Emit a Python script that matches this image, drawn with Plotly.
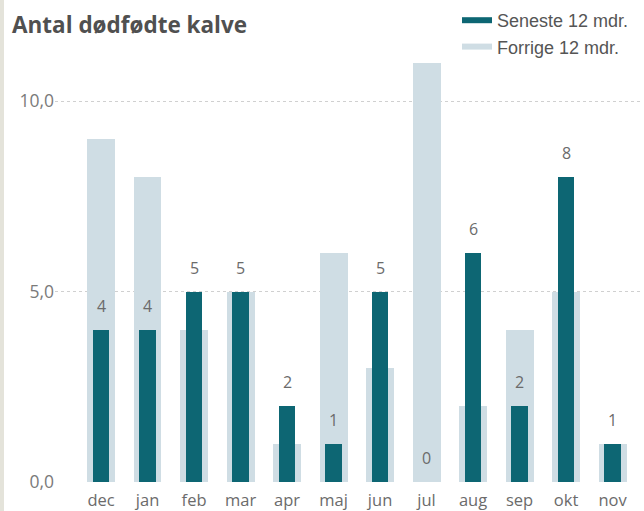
import plotly.graph_objects as go

months = ["dec", "jan", "feb", "mar", "apr", "maj", "jun", "jul", "aug", "sep", "okt", "nov"]
seneste = [4, 4, 5, 5, 2, 1, 5, 0, 6, 2, 8, 1]
forrige = [9, 8, 4, 5, 1, 6, 3, 11, 2, 4, 5, 1]
y_ticks = [0, 5, 10]
y_tick_labels = ["0,0", "5,0", "10,0"]

DARK = "#0d6673"
LIGHT = "#cfdde4"
TEXT = "#6b6b6b"
FONT = "Open Sans, Arial, sans-serif"

fig = go.Figure()
fig.add_trace(go.Bar(x=months, y=forrige, width=0.6, marker=dict(color=LIGHT, line=dict(width=0)),
                     name="Forrige 12 mdr.", showlegend=False, hoverinfo="skip"))
fig.add_trace(go.Bar(x=months, y=seneste, width=0.36, marker=dict(color=DARK, line=dict(width=0)),
                     name="Seneste 12 mdr.", showlegend=False, hoverinfo="skip"))

# legend entries
fig.add_trace(go.Scatter(x=[None], y=[None], mode="lines", line=dict(color=DARK, width=6),
                         name="Seneste 12 mdr.", hoverinfo="skip"))
fig.add_trace(go.Scatter(x=[None], y=[None], mode="lines", line=dict(color=LIGHT, width=6),
                         name="Forrige 12 mdr.", hoverinfo="skip"))

for m, v in zip(months, seneste):
    fig.add_annotation(x=m, y=v, text=str(v), showarrow=False, yanchor="middle", yshift=24,
                       font=dict(size=16, color=TEXT, family=FONT))

fig.update_layout(
    width=644, height=511,
    margin=dict(l=55, r=4, t=63, b=29, autoexpand=False),
    paper_bgcolor="white", plot_bgcolor="white",
    barmode="overlay", bargap=0,
    font=dict(family=FONT, color=TEXT, size=12),
    title=dict(text="<b>Antal dødfødte kalve</b>", x=12/644, xanchor="left", xref="container",
               y=1 - 25/511, yanchor="middle", yref="container",
               font=dict(size=22.5, color="#505050", family=FONT)),
    legend=dict(x=457/644, xref="container", xanchor="left", y=1 - 2/511, yref="container",
                yanchor="top", font=dict(size=18, color="#555555", family="Liberation Sans, Arial, sans-serif"),
                itemwidth=30, bgcolor="rgba(0,0,0,0)", tracegroupgap=0),
    showlegend=True,
    hovermode=False,
)
fig.update_xaxes(range=[-0.99, 11.59], showgrid=False, showline=False, zeroline=False, ticks="",
                 tickfont=dict(size=16.5, color=TEXT), ticklabelstandoff=6)
fig.update_yaxes(range=[0, 11], tickvals=y_ticks, ticktext=y_tick_labels, showgrid=True,
                 gridcolor="#d0d0d0", griddash="dot", gridwidth=1, zeroline=False, showline=False,
                 ticks="", tickfont=dict(size=17.5, color="#7a7a7a"))

fig.add_shape(type="rect", xref="paper", yref="paper", x0=-55/585, x1=-51/585, y0=-29/419, y1=1 + 63/419,
              fillcolor="#e4e3da", line=dict(width=0), layer="above")

fig.write_html("out.html", config={"displayModeBar": False},
               post_script="document.body.style.margin='0';")
